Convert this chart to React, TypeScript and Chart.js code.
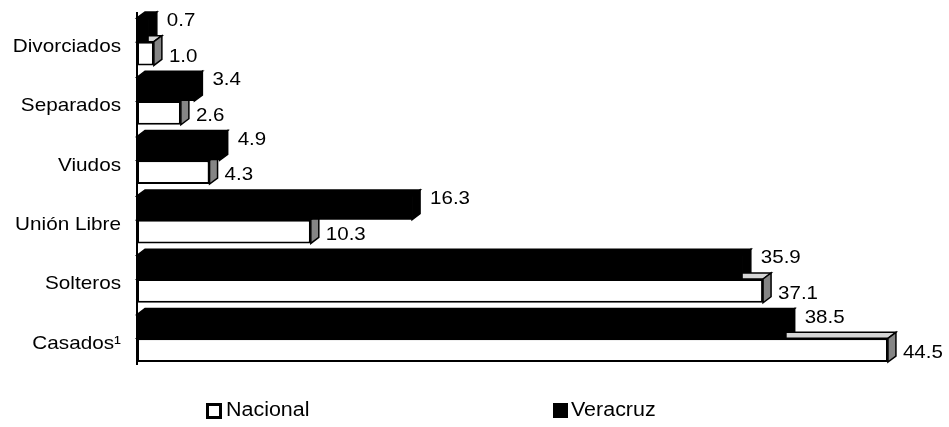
import React, { useEffect, useRef } from "react";
import { Chart, registerables } from "chart.js";

Chart.register(...registerables);

const categories = ["Divorciados", "Separados", "Viudos", "Unión Libre", "Solteros", "Casados¹"];
const nacional = [1.0, 2.6, 4.3, 10.3, 37.1, 44.5];
const veracruz = [0.7, 3.4, 4.9, 16.3, 35.9, 38.5];
const seriesNames = ["Nacional", "Veracruz"];

const FONT = "'Liberation Sans', Arial, sans-serif";
const DX = 8;
const DY = 6;

function stretchedText(ctx: CanvasRenderingContext2D, text: string, x: number, y: number, size: number, align: CanvasTextAlign, sx: number) {
  ctx.save();
  ctx.translate(x, y);
  ctx.scale(sx, 1);
  ctx.font = `${size}px ${FONT}`;
  ctx.fillStyle = "#000";
  ctx.textAlign = align;
  ctx.textBaseline = "middle";
  ctx.fillText(text, 0, 0);
  ctx.restore();
}

const bar3d = {
  id: "bar3d",
  beforeDatasetsDraw(chart: any) {
    const ctx = chart.ctx as CanvasRenderingContext2D;
    ctx.save();
    chart.data.datasets.forEach((_ds: any, di: number) => {
      const meta = chart.getDatasetMeta(di);
      const black = di === 0;
      meta.data.forEach((el: any) => {
        const { x, y, base, height } = el.getProps(["x", "y", "base", "height"], true);
        const top = y - height / 2;
        const bot = y + height / 2;
        ctx.lineWidth = 1.5;
        ctx.strokeStyle = "#000";
        ctx.beginPath();
        ctx.moveTo(base, top);
        ctx.lineTo(base + DX, top - DY);
        ctx.lineTo(x + DX, top - DY);
        ctx.lineTo(x, top);
        ctx.closePath();
        ctx.fillStyle = black ? "#000" : "#d6d6d6";
        ctx.fill();
        ctx.stroke();
        ctx.beginPath();
        ctx.moveTo(x, top);
        ctx.lineTo(x + DX, top - DY);
        ctx.lineTo(x + DX, bot - DY);
        ctx.lineTo(x, bot);
        ctx.closePath();
        ctx.fillStyle = black ? "#000" : "#858585";
        ctx.fill();
        ctx.stroke();
      });
    });
    ctx.restore();
  },
  afterDatasetsDraw(chart: any) {
    const ctx = chart.ctx as CanvasRenderingContext2D;
    const area = chart.chartArea;
    ctx.save();
    ctx.strokeStyle = "#000";
    ctx.lineWidth = 2;
    ctx.beginPath();
    ctx.moveTo(area.left, area.top);
    ctx.lineTo(area.left, area.bottom - 3);
    ctx.stroke();
    ctx.restore();

    chart.data.datasets.forEach((ds: any, di: number) => {
      const meta = chart.getDatasetMeta(di);
      meta.data.forEach((el: any, i: number) => {
        const { x, y } = el.getProps(["x", "y"], true);
        const v = ds.data[i] as number;
        if (di === 0) {
          stretchedText(ctx, v.toFixed(1), x + 18, y - 9, 19, "left", 1.08);
        } else {
          stretchedText(ctx, v.toFixed(1), x + 15, y + 3, 19, "left", 1.08);
        }
      });
    });

    const yScale = chart.scales.y;
    categories.forEach((c, i) => {
      const yc = yScale.getPixelForValue(i);
      stretchedText(ctx, c, 121, yc + 5, 19, "right", 1.09);
    });

    ctx.save();
    ctx.strokeStyle = "#000";
    ctx.lineWidth = 3;
    ctx.fillStyle = "#fff";
    ctx.fillRect(207.5, 404.5, 13, 13);
    ctx.strokeRect(207.5, 404.5, 13, 13);
    ctx.fillStyle = "#000";
    ctx.fillRect(553, 403, 15, 15);
    ctx.restore();
    stretchedText(ctx, seriesNames[0], 226, 411, 19.5, "left", 1.1);
    stretchedText(ctx, seriesNames[1], 571, 411, 19.5, "left", 1.1);
  },
};

export default function App() {
  const ref = useRef<HTMLCanvasElement | null>(null);
  useEffect(() => {
    if (!ref.current) return;
    const chart = new Chart(ref.current, {
      type: "bar",
      data: {
        labels: categories,
        datasets: [
          {
            label: seriesNames[1],
            data: veracruz,
            backgroundColor: "#000",
            borderColor: "#000",
            borderWidth: 0,
            categoryPercentage: 0.8,
            barPercentage: 1,
          },
          {
            label: seriesNames[0],
            data: nacional,
            backgroundColor: "#fff",
            borderColor: "#000",
            borderWidth: 2,
            borderSkipped: false,
            categoryPercentage: 0.8,
            barPercentage: 1,
          },
        ],
      },
      options: {
        indexAxis: "y",
        responsive: false,
        animation: false,
        events: [],
        layout: { padding: { left: 137, right: 2, top: 12, bottom: 59 } },
        scales: {
          x: { type: "linear", min: 0, max: 48, display: false },
          y: { type: "category", display: false },
        },
        plugins: { legend: { display: false }, tooltip: { enabled: false } },
      },
      plugins: [bar3d],
    } as any);
    return () => chart.destroy();
  }, []);
  return (
    <div style={{ position: "absolute", left: 0, top: 0, width: 949, height: 427, background: "#fff" }}>
      <canvas ref={ref} width={949} height={427} style={{ display: "block" }} />
    </div>
  );
}
